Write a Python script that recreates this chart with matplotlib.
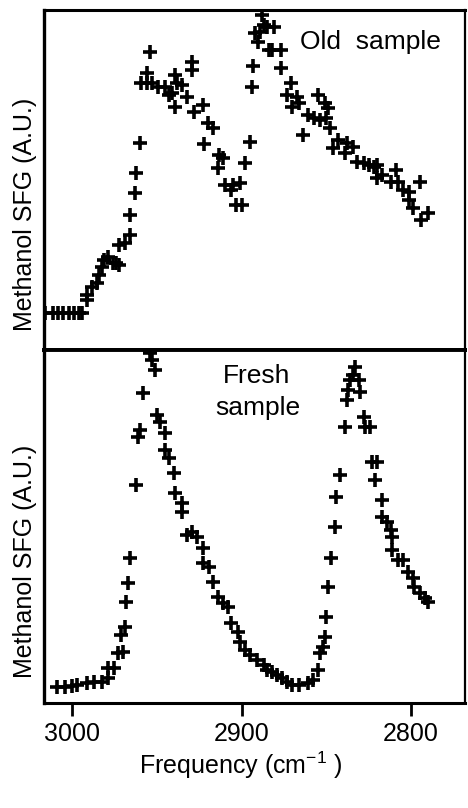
""" Methanol SFG spectra, old vs fresh sample """

import matplotlib.pyplot as plt

plt.rcParams['font.family'] = ['Liberation Sans', 'DejaVu Sans']

# old sample: frequency (cm-1) and SFG signal (A.U.)
old_freq = [3016, 3011, 3008, 3005, 3002, 2999, 2996, 2994,
            2991, 2991, 2988, 2985, 2984, 2982, 2981, 2979, 2976, 2974,
            2972, 2972, 2969, 2966, 2966, 2963, 2962, 2960, 2956, 2959,
            2956, 2954,
            2953, 2949, 2945, 2943, 2941, 2939, 2939, 2938, 2935, 2932,
            2929, 2929, 2928, 2923, 2920, 2922, 2917, 2913, 2914, 2911,
            2910, 2906, 2905, 2903, 2901, 2900,
            2898, 2895, 2894, 2893, 2890, 2889, 2887, 2888, 2884, 2892,
            2885, 2881, 2882, 2877, 2877, 2871, 2873, 2867, 2870, 2866,
            2855, 2851, 2849, 2861, 2857, 2854, 2850, 2848, 2864, 2843,
            2838, 2834, 2846, 2839, 2832, 2828, 2825, 2822, 2820, 2820,
            2817, 2809, 2812, 2808, 2805, 2801, 2795, 2801, 2799, 2790,
            2794]
old_sfg = [37, 37, 37, 37, 37, 37, 37, 37,
           50, 55, 63, 67, 75, 83, 90, 93, 87, 87,
           85, 105, 107, 115, 135, 157, 177, 207, 267, 267,
           277, 298,
           267, 263, 263, 255, 257, 275, 243, 267, 265, 253,
           280, 288, 238, 245, 227, 206, 222, 195, 182, 192,
           165, 160, 165, 145, 167, 145,
           187, 208, 263, 284, 308, 318, 325, 335, 300, 317,
           323, 323, 300, 300, 282, 267, 255, 253, 243, 247,
           255, 247, 242, 235, 232, 230, 232, 222, 215, 210,
           207, 203, 202, 197, 188, 187, 185, 183, 185, 172,
           175, 180, 168, 168, 160, 158, 168, 150, 142, 137,
           130]

# fresh sample
fresh_freq = [3009, 3004, 3000, 2997, 2991, 2987, 2982, 2979, 2979, 2975,
              2973, 2970, 2971, 2969, 2968, 2967, 2966, 2962, 2961, 2960,
              2958, 2953, 2951, 2954,
              2950, 2948, 2945, 2945, 2943, 2940, 2939, 2935, 2935, 2932,
              2929, 2926, 2923, 2923, 2919, 2917, 2914, 2911, 2908, 2906,
              2902, 2901, 2898, 2895, 2891, 2887, 2885, 2882, 2879, 2876,
              2873, 2870, 2866, 2861, 2858, 2855, 2854, 2852, 2851, 2850,
              2849, 2847, 2845, 2844, 2842, 2839, 2838, 2837, 2836, 2833,
              2834, 2831, 2830, 2828, 2827, 2824, 2823, 2820, 2821, 2817,
              2817, 2814, 2812, 2811, 2811, 2808, 2805, 2802, 2799, 2798,
              2795, 2792, 2790]
fresh_sfg = [16, 16, 17, 18, 20, 21, 21, 25, 35, 35,
             50, 51, 68, 76, 101, 120, 145, 218, 266, 273,
             310, 343, 333, 350,
             288, 281, 270, 253, 245, 230, 210, 200, 191, 168,
             171, 166, 155, 140, 136, 121, 106, 100, 96, 80,
             71, 61, 53, 48, 43, 38, 33, 31, 28, 25,
             21, 18, 18, 20, 23, 33, 50, 56, 66, 86,
             116, 145, 176, 206, 228, 276, 303, 313, 323, 336,
             328, 323, 311, 286, 276, 276, 241, 241, 223, 203,
             186, 181, 173, 166, 153, 143, 143, 131, 125, 116,
             110, 105, 101]

xticks = [3000, 2900, 2800]

fig = plt.figure(figsize=(4.68, 8.08), dpi=100)
ax1 = fig.add_axes([0.094, 0.567, 0.8996, 0.4205])
ax2 = fig.add_axes([0.094, 0.130, 0.8996, 0.437])

mk = dict(marker='+', linestyle='none', color='black', markersize=10, markeredgewidth=2.6)
ax1.plot(old_freq, old_sfg, **mk)
ax2.plot(fresh_freq, fresh_sfg, **mk)

for ax in (ax1, ax2):
    ax.set_xlim(3016.5, 2768.2)
    ax.set_yticks([])
    for s in ax.spines.values():
        s.set_linewidth(1.6)
    ax.spines['left'].set_linewidth(2.4)
ax1.set_ylim(0, 340)
ax2.set_ylim(0, 353)
ax1.spines['bottom'].set_linewidth(2.8)
ax2.spines['top'].set_linewidth(2.8)
ax1.spines['top'].set_linewidth(2.2)
ax2.spines['bottom'].set_linewidth(2.2)

ax1.set_xticks([])
ax2.set_xticks(xticks)
ax2.set_xticklabels([str(t) for t in xticks])
ax2.tick_params(axis='x', direction='out', length=9, width=2, labelsize=18, pad=5)

ax1.text(0.608, 0.905, "Old  sample", transform=ax1.transAxes, ha='left', va='center', fontsize=19)
ax2.text(0.505, 0.927, "Fresh", transform=ax2.transAxes, ha='center', va='center', fontsize=19)
ax2.text(0.508, 0.835, "sample", transform=ax2.transAxes, ha='center', va='center', fontsize=19)

fig.text(0.054, 0.735, "Methanol SFG (A.U.)", rotation=90, ha='center', va='center', fontsize=18)
fig.text(0.054, 0.305, "Methanol SFG (A.U.)", rotation=90, ha='center', va='center', fontsize=18)
fig.text(0.515, 0.053, r"Frequency (cm$^{\mathdefault{-1}}$ )", ha='center', va='center', fontsize=18)

fig.savefig("out.png", dpi=100)
